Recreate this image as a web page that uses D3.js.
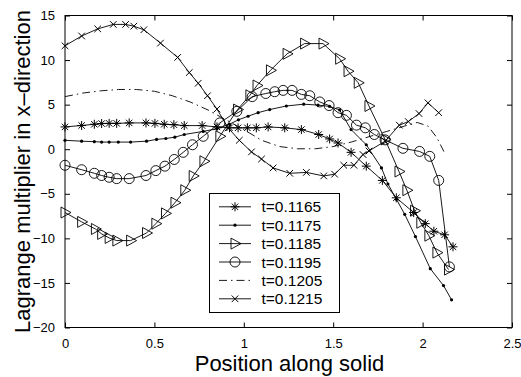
<!DOCTYPE html>
<html>
<head>
<meta charset="utf-8">
<script src="https://cdn.jsdelivr.net/npm/d3@7"></script>
<style>
  body { margin: 0; background: #fff; }
  svg { display: block; font-family: "Liberation Sans", Arial, sans-serif; }
</style>
</head>
<body>
<svg id="chart"></svg>
<script>
// ---------- data ----------
var labels = ["t=0.1165", "t=0.1175", "t=0.1185", "t=0.1195", "t=0.1205", "t=0.1215"];
var markers = ["star", "dot", "tri", "circle", "none", "cross"];

var x1165 = [0,0.093,0.164,0.205,0.247,0.289,0.359,0.453,0.503,0.555,0.609,0.667,0.767,0.85,0.92,0.968,1.02,1.07,1.136,1.229,1.322,1.419,1.48,1.527,1.60,1.685,1.775,1.853,1.95,2.015,2.063,2.123,2.17];
var y1165 = [2.5,2.66,2.8,2.88,2.9,2.9,2.95,2.95,2.9,2.8,2.75,2.65,2.65,2.5,2.4,2.4,2.4,2.4,2.5,2.4,2.2,1.65,1.15,0.7,-0.35,-1.9,-3.5,-5.45,-7.1,-8.35,-9.2,-9.6,-10.95];

var x1175 = [0,0.093,0.164,0.205,0.247,0.298,0.367,0.456,0.512,0.564,0.614,0.667,0.773,0.85,0.92,0.97,1.024,1.08,1.145,1.238,1.335,1.415,1.48,1.536,1.6,1.685,1.77,1.806,1.853,1.9,1.96,2.043,2.117,2.162];
var y1175 = [1.0,0.9,0.85,0.8,0.8,0.8,0.8,0.9,1.1,1.2,1.35,1.65,2.0,2.3,2.8,3.3,3.7,4.1,4.45,4.85,5.05,4.95,4.8,4.4,2.2,0.5,-2.1,-3.9,-5.6,-7.3,-9.8,-13.4,-15.3,-16.9];

var x1185 = [0,0.093,0.17,0.205,0.247,0.29,0.367,0.456,0.508,0.562,0.615,0.67,0.717,0.777,0.866,0.965,1.034,1.074,1.149,1.242,1.34,1.443,1.536,1.583,1.64,1.70,1.79,1.868,1.912,1.955,1.99,2.035,2.08,2.145];
var y1185 = [-7.1,-8.15,-8.95,-9.5,-9.95,-10.25,-10.25,-9.4,-8.35,-7.2,-6.0,-4.6,-3.0,-1.35,1.45,4.45,6.05,7.15,8.85,10.7,11.85,11.85,10.15,8.75,7.45,4.85,1.1,-2.5,-4.6,-6.9,-8.25,-9.7,-11.6,-13.5];

var x1195 = [0,0.093,0.164,0.205,0.247,0.289,0.359,0.453,0.508,0.559,0.611,0.661,0.713,0.773,0.866,0.961,1.047,1.123,1.173,1.22,1.27,1.322,1.369,1.425,1.477,1.527,1.574,1.63,1.68,1.73,1.79,1.89,1.983,2.04,2.09,2.15];
var y1195 = [-1.8,-2.3,-2.7,-2.95,-3.15,-3.3,-3.3,-2.95,-2.4,-1.9,-1.15,-0.35,0.5,1.45,2.95,4.25,5.9,6.25,6.45,6.6,6.6,6.15,6.0,5.3,4.9,4.1,3.8,2.7,2.4,1.65,1.05,0.1,-0.25,-0.8,-3.5,-13.2];

var x1205 = [0,0.1,0.2,0.3,0.4,0.5,0.6,0.7,0.8,0.9,1.0,1.1,1.2,1.3,1.4,1.5,1.6,1.7,1.8,1.9,1.97,2.03,2.08,2.12];
var y1205 = [5.9,6.3,6.55,6.7,6.7,6.5,6.0,5.3,4.4,3.3,2.2,1.0,0.3,0.05,0.05,0.3,0.8,1.4,2.0,2.6,3.0,2.6,1.3,-0.3];

var x1215 = [0,0.093,0.183,0.27,0.339,0.385,0.441,0.534,0.63,0.695,0.745,0.797,0.85,0.912,0.975,1.043,1.099,1.164,1.257,1.35,1.447,1.508,1.559,1.616,1.667,1.70,1.79,1.87,1.92,1.98,2.03,2.09];
var y1215 = [11.6,12.7,13.5,14.0,14.0,13.8,13.4,11.9,10.3,8.6,7.4,6.0,4.5,2.4,1.0,-0.3,-1.1,-2.1,-2.7,-2.6,-3.0,-2.8,-1.8,-1.8,-0.6,-0.2,0.9,2.7,3.1,4.0,5.2,4.1];

var xTicks = [0, 0.5, 1, 1.5, 2, 2.5];
var yTicks = [-20, -15, -10, -5, 0, 5, 10, 15];

var seriesX = [x1165, x1175, x1185, x1195, x1205, x1215];
var seriesY = [y1165, y1175, y1185, y1195, y1205, y1215];

// ---------- layout ----------
var W = 521, H = 377;
var margin = {top: 15.5, right: 9, bottom: 49.5, left: 65},
    width = W - margin.left - margin.right,
    height = H - margin.top - margin.bottom;

var svg = d3.select("#chart").attr("width", W).attr("height", H);

var xScale = d3.scaleLinear().domain([0, 2.5]).range([margin.left, margin.left + width]);
var yScale = d3.scaleLinear().domain([-20, 15]).range([margin.top + height, margin.top]);

//---------- axes (ticks inside, on all four sides) ----------
var tickFmt = function(d) { return d < 0 ? "\u2212" + Math.abs(d) : String(d); };

function styleAxis(g) {
  g.select(".domain").remove();
  g.selectAll(".tick line").attr("stroke", "#000").attr("stroke-width", 1);
  g.selectAll(".tick text").attr("fill", "#000").style("font-size", "13px")
    .style("font-family", "Liberation Sans, Arial, sans-serif");
}

svg.append("g")
  .attr("transform", "translate(0," + (margin.top + height) + ")")
  .call(d3.axisBottom(xScale).tickValues(xTicks).tickSize(-5).tickPadding(11).tickFormat(d3.format("")))
  .call(styleAxis);
svg.append("g")
  .attr("transform", "translate(0," + margin.top + ")")
  .call(d3.axisTop(xScale).tickValues(xTicks).tickSize(-5).tickFormat(""))
  .call(styleAxis);
svg.append("g")
  .attr("transform", "translate(" + margin.left + ",0)")
  .call(d3.axisLeft(yScale).tickValues(yTicks).tickSize(-5).tickPadding(10).tickFormat(tickFmt))
  .call(styleAxis);
svg.append("g")
  .attr("transform", "translate(" + (margin.left + width) + ",0)")
  .call(d3.axisRight(yScale).tickValues(yTicks).tickSize(-5).tickFormat(""))
  .call(styleAxis);

// frame
svg.append("rect")
  .attr("x", margin.left).attr("y", margin.top)
  .attr("width", width).attr("height", height)
  .attr("fill", "none").attr("stroke", "#000").attr("stroke-width", 1);

// axis labels
svg.append("text")
  .attr("x", margin.left + width / 2 + 1)
  .attr("y", 371)
  .attr("text-anchor", "middle")
  .style("font-size", "22px")
  .text("Position along solid");

svg.append("text")
  .attr("transform", "translate(30," + (margin.top + height / 2 + 0) + ") rotate(-90)")
  .attr("text-anchor", "middle")
  .style("font-size", "22px")
  .text("Lagrange multiplier in x\u2013direction");

// ---------- markers ----------
function drawMarker(g, type) {
  if (type === "star") {
    var s = 4.5, t = 3.2;
    g.append("path")
      .attr("d", "M" + (-s) + ",0H" + s + "M0," + (-s) + "V" + s +
                 "M" + (-t) + "," + (-t) + "L" + t + "," + t +
                 "M" + (-t) + "," + t + "L" + t + "," + (-t))
      .attr("stroke", "#000").attr("stroke-width", 1).attr("fill", "none");
  } else if (type === "dot") {
    g.append("circle").attr("r", 1.6).attr("fill", "#000");
  } else if (type === "tri") {
    g.append("path").attr("d", "M-4,-5.5L6,0L-4,5.5Z")
      .attr("stroke", "#000").attr("stroke-width", 0.9).attr("fill", "none");
  } else if (type === "circle") {
    g.append("circle").attr("r", 5).attr("stroke", "#000").attr("stroke-width", 0.9).attr("fill", "none");
  } else if (type === "cross") {
    var c = 3.3;
    g.append("path")
      .attr("d", "M" + (-c) + "," + (-c) + "L" + c + "," + c + "M" + (-c) + "," + c + "L" + c + "," + (-c))
      .attr("stroke", "#000").attr("stroke-width", 1).attr("fill", "none");
  }
}

var line = d3.line()
  .x(function(d) { return xScale(d[0]); })
  .y(function(d) { return yScale(d[1]); });

var plot = svg.append("g");

labels.forEach(function(lab, i) {
  var pts = seriesX[i].map(function(x, j) { return [x, seriesY[i][j]]; });
  var path = plot.append("path")
    .datum(pts)
    .attr("d", line)
    .attr("fill", "none")
    .attr("stroke", "#000")
    .attr("stroke-width", 0.9);
  if (markers[i] === "none") {
    path.attr("stroke-dasharray", "8,4,1.5,4");
  }
  plot.selectAll(null)
    .data(pts)
    .enter()
    .append("g")
    .attr("transform", function(d) { return "translate(" + xScale(d[0]) + "," + yScale(d[1]) + ")"; })
    .each(function() { drawMarker(d3.select(this), markers[i]); });
});

//-------------------legend----------------
var legend = svg.append("g").attr("transform", "translate(209.5,193.5)");
legend.append("rect")
  .attr("width", 130).attr("height", 119)
  .attr("fill", "#fff").attr("stroke", "#000").attr("stroke-width", 1);

var rows = legend.selectAll("g.row")
  .data(labels)
  .enter()
  .append("g")
  .attr("class", "row")
  .attr("transform", function(d, i) { return "translate(0," + (13.3 + i * 18.4) + ")"; });

rows.append("line")
  .attr("x1", 9.5).attr("x2", 41.5)
  .attr("stroke", "#000").attr("stroke-width", 0.9)
  .attr("stroke-dasharray", function(d, i) { return markers[i] === "none" ? "8,4,1.5,4" : null; });

rows.append("g")
  .attr("transform", "translate(25.5,0)")
  .each(function(d, i) { drawMarker(d3.select(this), markers[i]); });

rows.append("text")
  .attr("x", 52)
  .attr("dy", "0.36em")
  .style("font-size", "15.5px")
  .text(function(d) { return d; });
</script>
</body>
</html>
